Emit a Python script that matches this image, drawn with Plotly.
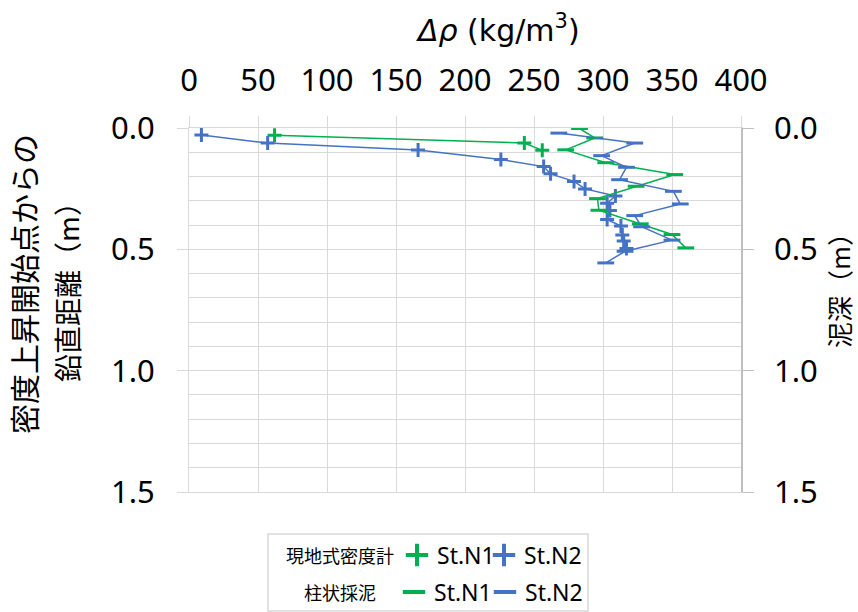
import plotly.graph_objects as go

# ---- data ----
# 現地式密度計 (in-situ densimeter)
probe_n1_rho = [62, 243, 256]
probe_n1_depth = [0.030, 0.062, 0.092]

probe_n2_rho = [9, 57, 166, 226, 257, 262, 279, 287, 309, 303, 305, 303, 313, 314, 315, 317]
probe_n2_depth = [0.029, 0.062, 0.091, 0.130, 0.159, 0.189, 0.220, 0.251, 0.280, 0.310,
                  0.340, 0.377, 0.404, 0.441, 0.466, 0.497]

# 柱状採泥 (core sampling)
core_n1_rho = [283, 294, 273, 302, 352, 324, 296, 297, 327, 350, 360]
core_n1_depth = [0.002, 0.041, 0.090, 0.143, 0.192, 0.240, 0.291, 0.339, 0.395, 0.439, 0.494]

core_n2_rho = [268, 323, 299, 317, 312, 351, 356, 323, 328, 350, 316, 302]
core_n2_depth = [0.021, 0.062, 0.114, 0.162, 0.213, 0.261, 0.313, 0.361, 0.407, 0.462, 0.508, 0.556]

x_ticks = [0, 50, 100, 150, 200, 250, 300, 350, 400]
y_ticks = [0.0, 0.5, 1.0, 1.5]

GREEN = "#00b050"
BLUE = "#4472c4"
GRID = "#d9d9d9"
AXIS = "#bfbfbf"
NUM_FONT = "Noto Sans, Liberation Sans, sans-serif"
JP_FONT = "Noto Sans CJK JP, Noto Sans, sans-serif"

fig = go.Figure()

def add_series(xv, yv, color, symbol, size):
    fig.add_trace(go.Scatter(
        x=xv, y=yv, mode="lines+markers",
        line=dict(color=color, width=1.5),
        marker=dict(symbol=symbol, size=size, color=color, line=dict(color=color, width=3)),
        showlegend=False, hoverinfo="skip"))

add_series(probe_n1_rho, probe_n1_depth, GREEN, "cross-thin", 10)
add_series(probe_n2_rho, probe_n2_depth, BLUE, "cross-thin", 10)
add_series(core_n1_rho, core_n1_depth, GREEN, "line-ew", 12)
add_series(core_n2_rho, core_n2_depth, BLUE, "line-ew", 12)

# invisible trace for the right axis
fig.add_trace(go.Scatter(x=[None], y=[None], yaxis="y2", showlegend=False, hoverinfo="skip"))

# legend-only entries (one legend box per entry for exact placement)
def add_legend(name, color, symbol, legend):
    fig.add_trace(go.Scatter(
        x=[None], y=[None], mode="markers", name=name,
        marker=dict(symbol=symbol, size=16, color=color, line=dict(color=color, width=4)),
        legend=legend, showlegend=True))

add_legend("St.N1", GREEN, "cross-thin", "legend")
add_legend("St.N2", BLUE, "cross-thin", "legend2")
add_legend("St.N1", GREEN, "line-ew", "legend3")
add_legend("St.N2", BLUE, "line-ew", "legend4")

L, R, T, B = 189, 741, 128, 492
W, H = 858, 612

def px_x(p):
    return (p - L) / (R - L)

def px_y(p):
    return (B - p) / (B - T)

def leg(xp, yp):
    return dict(
        orientation="h", xanchor="left", yanchor="middle",
        x=px_x(xp), y=px_y(yp),
        font=dict(family=NUM_FONT, size=23, color="#000000"),
        bgcolor="rgba(0,0,0,0)", borderwidth=0, itemwidth=30,
    )

fig.update_layout(
    width=W, height=H,
    margin=dict(l=L, r=W - R, t=T, b=H - B, pad=0, autoexpand=False),
    paper_bgcolor="white", plot_bgcolor="white",
    xaxis=dict(
        range=[0, 400], side="top", tickvals=x_ticks, ticktext=[str(v) for v in x_ticks],
        showgrid=True, gridcolor=GRID, gridwidth=1, zeroline=False,
        showline=True, linecolor=GRID, linewidth=1, mirror=True,
        ticks="outside", ticklen=11, tickcolor=GRID, tickwidth=1,
        tickfont=dict(family=NUM_FONT, size=31, color="#000000"),
        ticklabelstandoff=13, automargin=False,
    ),
    yaxis=dict(
        range=[1.5, 0], tickvals=y_ticks, ticktext=[f"{v:.1f}" for v in y_ticks],
        showgrid=True, gridcolor=GRID, gridwidth=1, zeroline=False,
        showline=True, linecolor=GRID, linewidth=1,
        ticks="outside", ticklen=11, tickcolor=GRID, tickwidth=1,
        tickfont=dict(family=NUM_FONT, size=31, color="#000000"),
        minor=dict(dtick=0.1, tick0=0, showgrid=True, gridcolor=GRID, gridwidth=1, ticks=""),
        ticklabelstandoff=16, automargin=False,
    ),
    yaxis2=dict(
        range=[1.5, 0], overlaying="y", side="right", anchor="x",
        tickvals=y_ticks, ticktext=[f"{v:.1f}" for v in y_ticks],
        showgrid=False, zeroline=False, showline=True, linecolor=AXIS, linewidth=1.5,
        ticks="outside", ticklen=11, tickcolor=AXIS, tickwidth=1,
        tickfont=dict(family=NUM_FONT, size=31, color="#000000"),
        ticklabelstandoff=14, automargin=False,
    ),
    legend=leg(397, 555),
    legend2=leg(484, 555),
    legend3=leg(394, 592),
    legend4=leg(485, 592),
    shapes=[dict(type="rect", xref="paper", yref="paper",
                 x0=px_x(268), x1=px_x(588), y0=px_y(534), y1=px_y(611),
                 line=dict(color=GRID, width=1.5), fillcolor="rgba(0,0,0,0)", layer="below")],
    annotations=[
        dict(text="<i>Δρ</i> (kg/m<sup>3</sup>)", xref="paper", yref="paper",
             x=px_x(498), y=px_y(28), xanchor="center", yanchor="middle", showarrow=False,
             font=dict(family="DejaVu Sans, sans-serif", size=30, color="#000000")),
        dict(text="密度上昇開始点からの", xref="paper", yref="paper",
             x=px_x(23), y=px_y(284), xanchor="center", yanchor="middle", showarrow=False,
             textangle=-90, font=dict(family=JP_FONT, size=30, color="#000000")),
        dict(text="鉛直距離（m）", xref="paper", yref="paper",
             x=px_x(67), y=px_y(285), xanchor="center", yanchor="middle", showarrow=False,
             textangle=-90, font=dict(family=JP_FONT, size=28, color="#000000")),
        dict(text="泥深（m）", xref="paper", yref="paper",
             x=px_x(838), y=px_y(284), xanchor="center", yanchor="middle", showarrow=False,
             textangle=-90, font=dict(family=JP_FONT, size=26, color="#000000")),
        dict(text="現地式密度計", xref="paper", yref="paper",
             x=px_x(396), y=px_y(555), xanchor="right", yanchor="middle", showarrow=False,
             font=dict(family=JP_FONT, size=18, color="#000000")),
        dict(text="柱状採泥", xref="paper", yref="paper",
             x=px_x(378), y=px_y(592), xanchor="right", yanchor="middle", showarrow=False,
             font=dict(family=JP_FONT, size=18, color="#000000")),
    ],
)

fig.write_html("out.html", config={"displayModeBar": False},
               post_script="document.body.style.margin='0px';")
